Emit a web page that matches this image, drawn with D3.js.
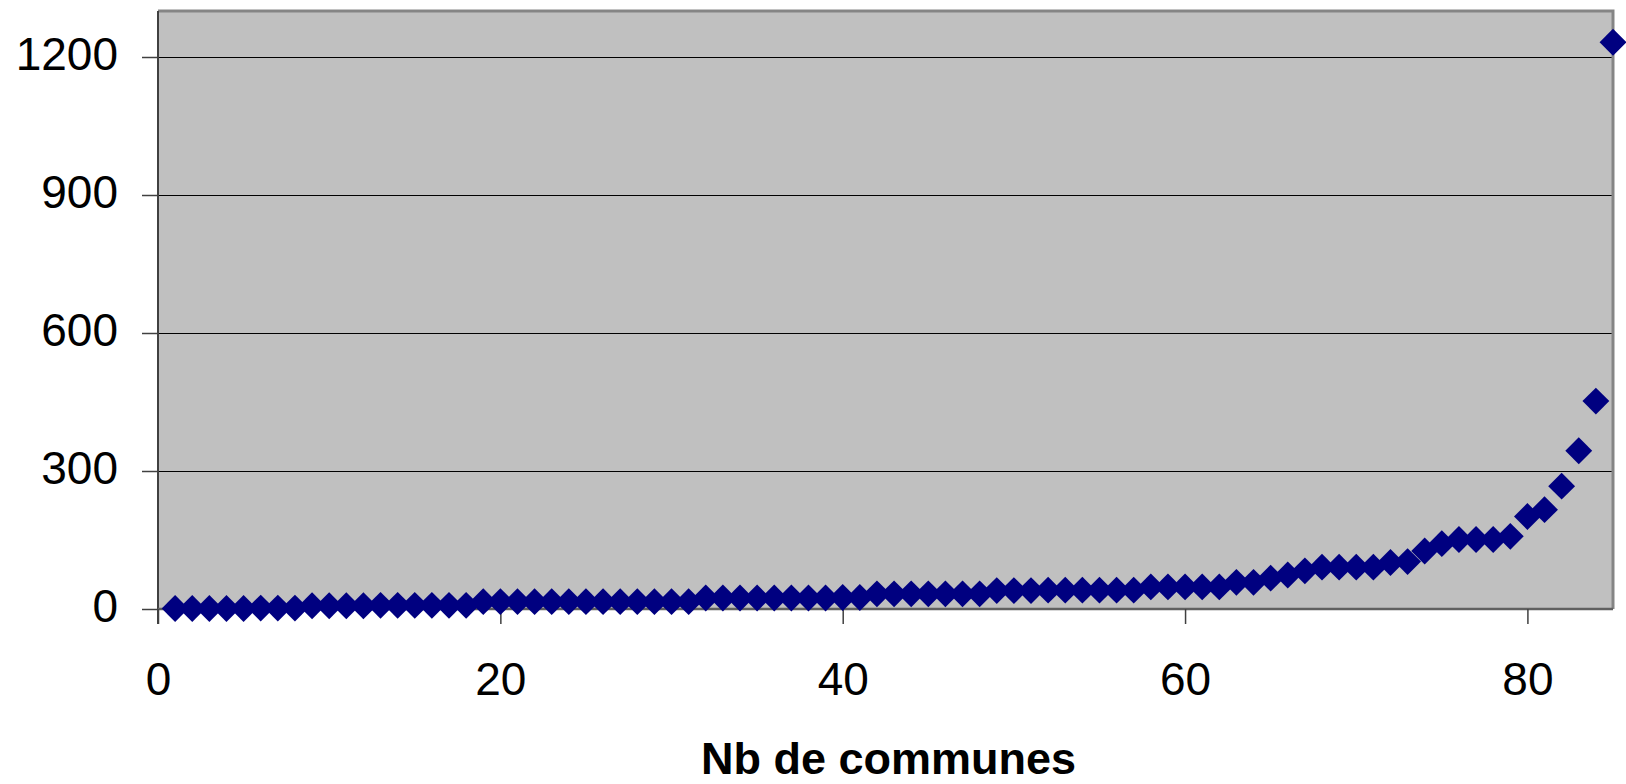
<!DOCTYPE html>
<html><head><meta charset="utf-8">
<script src="https://cdn.jsdelivr.net/npm/d3@7"></script>
<style>body{margin:0;background:#fff;} svg{display:block;}</style>
</head><body>
<svg id="c" width="1626" height="784"></svg>
<script>
const xValues = d3.range(1, 86);
const yValues = [
  1,1,1,1,1,2,2,2,
  7,7,7,7,8,8,8,8,8,8,
  16,16,16,16,16,16,16,16,16,16,16,16,16,
  24,24,24,24,24,24,24,24,25,25,
  33,33,33,33,33,33,33,
  40,40,40,41,41,41,41,41,41,
  48,48,48,48,48,
  58,58,67,74,83,91,91,91,91,101,103,126,142,151,151,151,158,
  201,216,267,344,452,1232
];
const xTicks = [0,20,40,60,80];
const yTicks = [0,300,600,900,1200];
const xTitle = "Nb de communes";

const svg = d3.select("#c");
const L = 158, R = 1613, T = 11, B = 609;
const x = d3.scaleLinear().domain([0,85]).range([L,R]);
const y = d3.scaleLinear().domain([0,1300]).range([B,T]);

svg.append("rect").attr("x",L).attr("y",T).attr("width",R-L).attr("height",B-T).attr("fill","#c0c0c0");

// gridlines
svg.append("g").selectAll("line").data(yTicks.filter(d=>d>0)).join("line")
  .attr("x1",L).attr("x2",R).attr("y1",d=>y(d)+0.5).attr("y2",d=>y(d)+0.5)
  .attr("stroke","#000").attr("stroke-width",1.2);

// border top/right
svg.append("path").attr("d",`M${L},${T} H${R} V${B}`).attr("fill","none")
  .attr("stroke","#858585").attr("stroke-width",3);

const fontFam = "Liberation Sans, Arial, sans-serif";

// y axis
const yAxis = d3.axisLeft(y).tickValues(yTicks).tickSize(16).tickPadding(24).tickFormat(d3.format("d"));
const gy = svg.append("g").attr("transform",`translate(${L},0)`).call(yAxis);
gy.select(".domain").attr("stroke","#404040").attr("stroke-width",2).attr("d",`M0,${T}V${B+15}`);
gy.selectAll(".tick line").attr("stroke","#404040").attr("stroke-width",1.5);
gy.selectAll(".tick text").attr("font-family",fontFam).attr("font-size",46).attr("fill","#000").attr("dy","0.28em");

// x axis
const xAxis = d3.axisBottom(x).tickValues(xTicks).tickSize(15).tickPadding(38).tickFormat(d3.format("d"));
const gx = svg.append("g").attr("transform",`translate(0,${B})`).call(xAxis);
gx.select(".domain").attr("stroke","#606060").attr("stroke-width",2.5).attr("d",`M${L},0H${R}`);
gx.selectAll(".tick line").attr("stroke","#404040").attr("stroke-width",1.5);
gx.selectAll(".tick text").attr("font-family",fontFam).attr("font-size",46).attr("fill","#000");

// points
const sym = d3.symbol().type(d3.symbolSquare).size(19*19);
svg.append("g").selectAll("path").data(xValues.map((v,i)=>[v,yValues[i]])).join("path")
  .attr("d",sym)
  .attr("transform",d=>`translate(${x(d[0])},${y(d[1])}) rotate(45)`)
  .attr("fill","#000080");

svg.append("text").attr("x",(L+R)/2+3).attr("y",774).attr("text-anchor","middle")
  .attr("font-family",fontFam).attr("font-weight","bold").attr("font-size",45).text(xTitle);
</script>
</body></html>
